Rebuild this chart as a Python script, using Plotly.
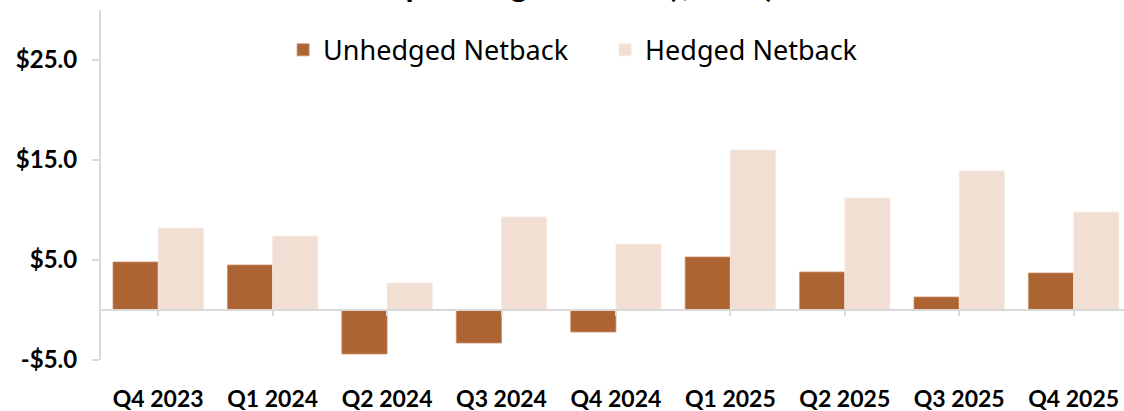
import plotly.graph_objects as go

quarters = ["Q4 2023", "Q1 2024", "Q2 2024", "Q3 2024", "Q4 2024",
            "Q1 2025", "Q2 2025", "Q3 2025", "Q4 2025"]
unhedged = [4.8, 4.5, -4.4, -3.3, -2.2, 5.3, 3.8, 1.3, 3.7]
hedged = [8.2, 7.4, 2.7, 9.3, 6.6, 16.0, 11.2, 13.9, 9.8]
ytick_vals = [-5, 5, 15, 25]
ytick_text = ["-$5.0", "$5.0", "$15.0", "$25.0"]
title_text = "Operating Netback ($/boe)"

fig = go.Figure()
fig.add_trace(go.Bar(x=quarters, y=unhedged, name="Unhedged Netback",
                     marker=dict(color="#AD6433", line=dict(color="#C9906B", width=0.8))))
fig.add_trace(go.Bar(x=quarters, y=hedged, name="Hedged Netback",
                     marker=dict(color="#F2DFD4", line=dict(color="#F7EAE3", width=0.8))))

font_bold = "Lato"

fig.update_layout(
    width=1124, height=411, autosize=False,
    margin=dict(l=101, r=0, t=10, b=51, autoexpand=False),
    paper_bgcolor="white", plot_bgcolor="white",
    barmode="group", bargap=0.21, bargroupgap=0,
    showlegend=True,
    legend=dict(orientation="h", x=0.178, xanchor="left", y=0.885, yanchor="middle",
                font=dict(family="Noto Sans", size=27, color="#000000"),
                itemwidth=30, entrywidthmode="pixels", entrywidth=277,
                bgcolor="rgba(0,0,0,0)"),
    # the chart title sits mostly above the visible area, as in the source image
    annotations=[dict(text="<b>" + title_text + "</b>", xref="paper", yref="paper",
                      x=0.465, y=1.01, xanchor="center", yanchor="bottom",
                      showarrow=False, font=dict(family=font_bold, size=33, color="black"))],
)

fig.update_xaxes(
    type="category", range=[-0.5, 8.44], automargin=False,
    anchor="free", position=1 / 7,
    showline=True, linecolor="#D9D9D9", linewidth=2,
    ticks="outside", ticklen=5, tickcolor="#D9D9D9", tickwidth=1.5,
    ticklabelstandoff=63,
    tickfont=dict(family=font_bold, size=23, color="#000000"),
    showgrid=False, zeroline=False,
)
fig.update_yaxes(
    range=[-5, 30], tickvals=ytick_vals, ticktext=ytick_text, automargin=False,
    showline=True, linecolor="#D9D9D9", linewidth=2,
    ticks="outside", ticklen=7, tickcolor="#D9D9D9", tickwidth=1.5,
    tickfont=dict(family=font_bold, size=24, color="#000000"),
    showgrid=False, zeroline=False, ticklabelstandoff=10,
)

# bold tick labels
fig.update_xaxes(ticktext=["<b>%s</b>" % q for q in quarters], tickvals=quarters)
fig.update_yaxes(ticktext=["<b>%s</b>" % t for t in ytick_text])

# page has a default 8px body margin, drop it so the figure fills the window
fig.write_html("out.html", config={"displayModeBar": False},
               post_script="document.body.style.margin='0';")
